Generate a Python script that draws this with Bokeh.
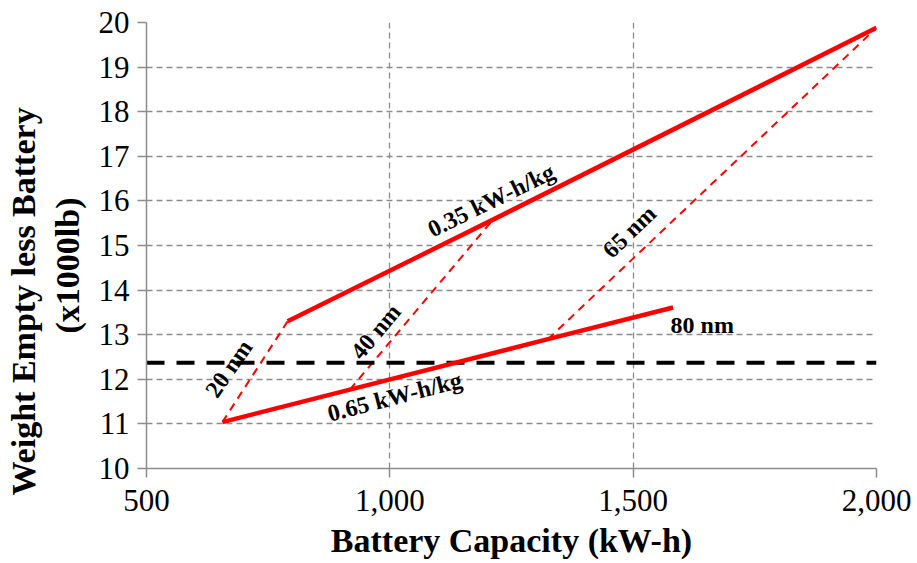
import math
from bokeh.plotting import figure
from bokeh.models import Label, FixedTicker, NumeralTickFormatter, Title
from bokeh.embed import file_html
from bokeh.resources import INLINE

# ---- data ----
x_ticks = [500, 1000, 1500, 2000]
y_ticks = [10, 11, 12, 13, 14, 15, 16, 17, 18, 19, 20]

# 0.35 kW-h/kg series (20, 40, 65 nm)
cap_035 = [790, 1212, 2000]
we_035 = [13.30, 15.58, 19.88]
# 0.65 kW-h/kg series (20, 40, 65, 80 nm)
cap_065 = [656, 918, 1325, 1582]
we_065 = [11.04, 11.77, 12.90, 13.61]
range_labels = ["20 nm", "40 nm", "65 nm", "80 nm"]
threshold = 12.37

FONT = "Liberation Serif"
RED = "#FF0000"
GRAY = "#8c8c8c"

p = figure(width=917, height=563, x_range=(500, 2000), y_range=(10, 20),
           output_backend="svg", toolbar_location=None,
           min_border_left=146, min_border_right=41,
           min_border_top=22, min_border_bottom=95)
p.outline_line_color = None
p.background_fill_color = "white"
p.border_fill_color = "white"

for ax in (p.xaxis[0], p.yaxis[0]):
    ax.axis_line_color = GRAY
    ax.axis_line_width = 1.5
    ax.major_tick_line_color = GRAY
    ax.major_tick_line_width = 1.5
    ax.major_tick_out = 9
    ax.major_tick_in = 0
    ax.minor_tick_line_color = None
    ax.major_label_text_font = FONT
    ax.major_label_text_font_size = "31px"
    ax.major_label_text_color = "black"

p.xaxis.ticker = FixedTicker(ticks=x_ticks)
p.yaxis.ticker = FixedTicker(ticks=y_ticks)
p.xaxis.formatter = NumeralTickFormatter(format="0,0")
p.xaxis.major_label_standoff = 12
p.yaxis.major_label_standoff = 8
p.xaxis.axis_label = "Battery Capacity (kW-h)"
p.xaxis.axis_label_text_font = FONT
p.xaxis.axis_label_text_font_style = "bold"
p.xaxis.axis_label_text_font_size = "34px"
p.xaxis.axis_label_text_color = "black"
p.xaxis.axis_label_standoff = 8

for g in (p.xgrid[0], p.ygrid[0]):
    g.grid_line_color = GRAY
    g.grid_line_dash = "6 4"
    g.grid_line_width = 1.3

# dashed constant-range lines
for i in range(3):
    p.line([cap_065[i], cap_035[i]], [we_065[i], we_035[i]],
           line_color=RED, line_width=2, line_dash="8 6")

# threshold
p.line([x_ticks[0], x_ticks[-1]], [threshold, threshold],
       line_color="black", line_width=4, line_dash="18 12")

# energy density lines
p.line(cap_035, we_035, line_color=RED, line_width=4.5)
p.line(cap_065, we_065, line_color=RED, line_width=4.5)

def lab(x, y, text, deg, size="24px", **kw):
    p.add_layout(Label(x=x, y=y, text=text, angle=math.radians(deg),
                       text_align="center", text_baseline="middle",
                       text_font=FONT, text_font_style="bold",
                       text_font_size=size, text_color="black", **kw))

lab(1208, 16.01, "0.35 kW-h/kg", 26)
lab(1010, 11.61, "0.65 kW-h/kg", 14.5)
lab(669, 12.24, range_labels[0], 55)
lab(971, 13.07, range_labels[1], 50)
lab(1492, 15.31, range_labels[2], 44)
lab(1642, 13.21, range_labels[3], 0)

# y axis title (two lines) as left-side titles
t2 = Title(text="(x1000lb)", align="left", offset=135, vertical_align="top",
           text_font=FONT, text_font_style="bold", text_font_size="34px",
           text_color="black", standoff=15)
t1 = Title(text="Weight Empty less Battery", align="left", offset=-27,
           text_font=FONT, text_font_style="bold", text_font_size="34px",
           text_color="black", standoff=0)
p.add_layout(t2, "left")
p.add_layout(t1, "left")

open("out.html", "w").write(file_html(p, INLINE))
